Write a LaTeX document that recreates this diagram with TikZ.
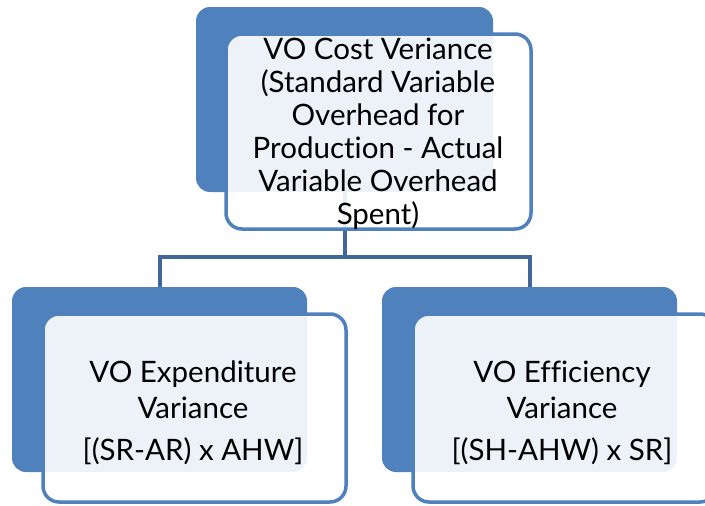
\documentclass[tikz,border=0pt]{standalone}
\usepackage{fontspec}
\setmainfont{Lato}[Ligatures = NoCommon]
\usepackage{tikz}
\usetikzlibrary{calc}
\usetikzlibrary{positioning}
\definecolor{voblue}{HTML}{4F81BD}
\definecolor{volink}{HTML}{41679A}
\tikzstyle{back} = [rectangle, rounded corners = 14, fill = voblue, draw = none, inner sep = 0]
\tikzstyle{front} = [rectangle, rounded corners = 16, fill = white, fill opacity = .9, draw = voblue, draw opacity = 1, line width = 3.5, inner sep = 0]
\tikzstyle{link} = [-, draw = volink, line width = 4]
\tikzstyle{boxtext} = [draw = none, inner sep = 0, align = center, font = \fontsize{29.5}{33}\selectfont]

\begin{document}
\begin{tikzpicture}[x = 1pt, y = -1pt]
\useasboundingbox (0, 0) rectangle (705, 506);
% connectors
\node [back, minimum width = 297, minimum height = 185] (costback) at (344.5, 99.5) {};
\node [back, minimum width = 295, minimum height = 185] (expback) at (159.5, 379.5) {};
\node [back, minimum width = 295, minimum height = 185] (effback) at (529.5, 379.5) {};
\coordinate (hub) at (344.5, 257);
\draw [link] (costback.south) -- (hub);
\draw [link] (expback.north) |- (hub) -| (effback.north);
% front boxes
\node [front, minimum width = 305, minimum height = 195] (cost) at (378.5, 131.5) {};
\node [front, minimum width = 303, minimum height = 188] (exp) at (194.5, 408) {};
\node [front, minimum width = 303, minimum height = 188] (eff) at (564.5, 408) {};
%\node [boxtext] at (378.5, 133) {...};
\node [boxtext] (costtext) at (378, 134) {VO Cost Veriance\\(Standard Variable\\Overhead for\\Production - Actual\\Variable Overhead\\Spent)};
\node [boxtext, font = \fontsize{29.5}{36}\selectfont] (exptext) at (193, 413) {VO Expenditure\\Variance\\[6pt][(SR-AR) x AHW]};
\node [boxtext, font = \fontsize{29.5}{36}\selectfont] (efftext) at (562, 413) {VO Efficiency\\Variance\\[6pt][(SH-AHW) x SR]};
\end{tikzpicture}
\end{document}
